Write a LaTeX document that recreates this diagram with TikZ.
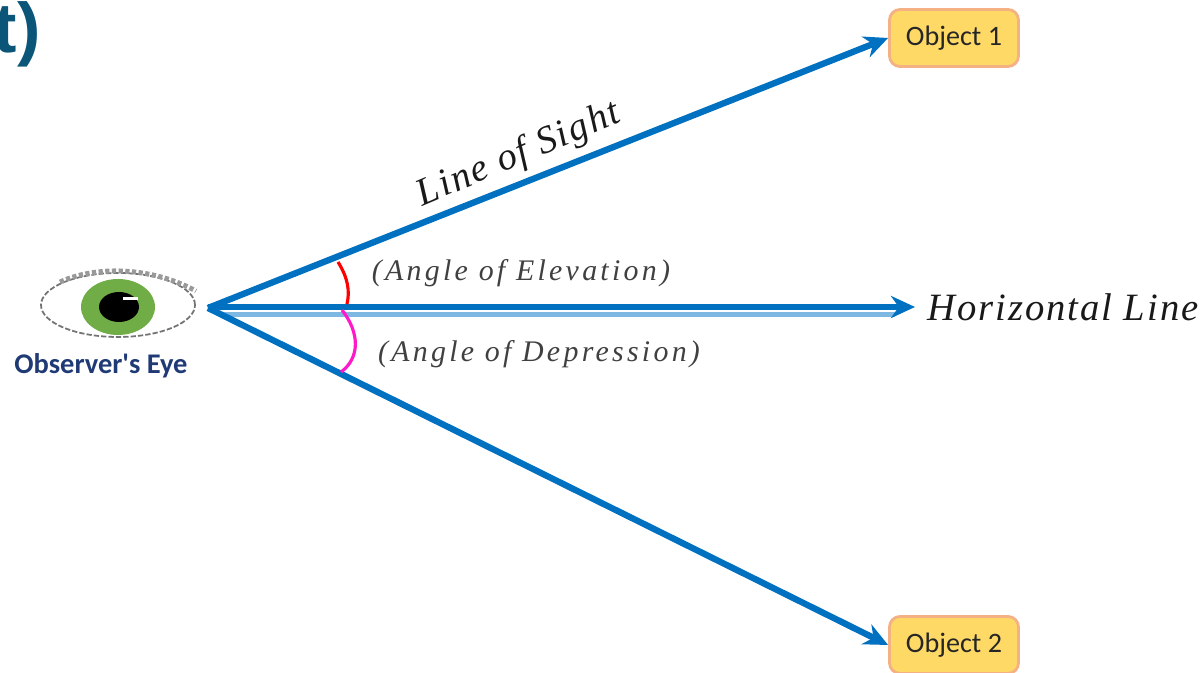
\documentclass[tikz,border=0pt]{standalone}
\usepackage{fontspec}
\setmainfont{Liberation Serif}
\newfontfamily\labelfont{Carlito}
\newfontfamily\tagfont{Liberation Sans}
\newfontfamily\mathtext[LetterSpace=11]{Liberation Serif}
\newfontfamily\bigmathtext[LetterSpace=5]{Liberation Serif}
\usepackage{xcolor}
\usetikzlibrary{calc,arrows.meta}
\definecolor{sightblue}{HTML}{0070C0}
\definecolor{paleblue}{HTML}{7DB8E3}
\definecolor{boxfill}{HTML}{FFD966}
\definecolor{boxedge}{HTML}{F4B183}
\definecolor{irisgreen}{HTML}{70AD47}
\definecolor{eyenavy}{HTML}{1F3A75}
\definecolor{tagteal}{HTML}{0B5578}
\definecolor{arcmagenta}{HTML}{FF19C8}
\tikzset{objbox/.style={draw=boxedge,thick,fill=boxfill,rounded corners=3pt,minimum width=1.29cm,minimum height=0.57cm,inner sep=0pt,text=black!85,font=\labelfont\fontsize{8}{10}\selectfont},
sight/.style={draw=sightblue,line width=1.8pt,-{Stealth[length=0.24cm,width=0.22cm]}},
mathlabel/.style={inner sep=0pt,font=\mathtext\itshape\fontsize{8.5}{10}\selectfont,text=black!75},
biglabel/.style={inner sep=0pt,font=\bigmathtext\itshape\fontsize{11}{13}\selectfont,text=black!90}}

\begin{document}
\begin{tikzpicture}
\useasboundingbox (0,0) rectangle (12.03,6.73);
\node[anchor=west,inner sep=0pt,font=\tagfont\bfseries\fontsize{20}{22}\selectfont,text=tagteal] (tag) at (-0.07,6.39) {t)};
% eye
\draw[black!55,line width=0.5pt,dash pattern=on 1.5pt off 0.6pt] (1.18,3.68) ellipse (0.77 and 0.32);
\draw[black!40,line width=1.4pt,dash pattern=on 1.2pt off 0.7pt] (0.6,3.91) .. controls (0.95,4.07) and (1.5,4.07) .. (1.96,3.82);
\fill[irisgreen] (1.18,3.66) ellipse (0.37 and 0.28);
\fill[black] (1.19,3.66) ellipse (0.2 and 0.15);
\fill[white] (1.23,3.73) rectangle (1.38,3.76);
\node[inner sep=0pt,font=\labelfont\bfseries\fontsize{8.1}{10}\selectfont,text=eyenavy] (eyelabel) at (1.01,3.07) {Observer's Eye};
% lines of sight
\coordinate (apex) at (2.08,3.65);
\coordinate (hzend) at (9.15,3.65);
\node[objbox] (obj1) at (9.54,6.35) {Object 1};
\node[objbox] (obj2) at (9.54,0.28) {Object 2};
\draw[paleblue,line width=1.4pt] ($(apex)+(0.15,-0.065)$) -- ($(hzend)+(-0.2,-0.065)$);
\draw[sight] (apex) -- (obj1.west);
\draw[sight] (apex) -- (obj2.west);
\draw[sight,line width=1.6pt] ($(apex)+(0,0.01)$) -- ($(hzend)+(0,0.01)$);
% angle arcs
\draw[red,line width=0.9pt] (3.38,4.11) .. controls (3.48,3.95) and (3.5,3.82) .. (3.47,3.69);
\draw[arcmagenta,line width=0.9pt] (3.42,3.63) .. controls (3.6,3.4) and (3.6,3.15) .. (3.41,3.01);
% labels
\node[biglabel,rotate=23] (sightlabel) at (5.19,5.18) {Line of Sight};
\node[mathlabel] (elev) at (5.21,4.0) {(Angle of Elevation)};
\node[mathlabel] (depr) at (5.39,3.19) {(Angle of Depression)};
\node[biglabel] (hzlabel) at (10.63,3.66) {Horizontal Line};
\end{tikzpicture}
\end{document}
